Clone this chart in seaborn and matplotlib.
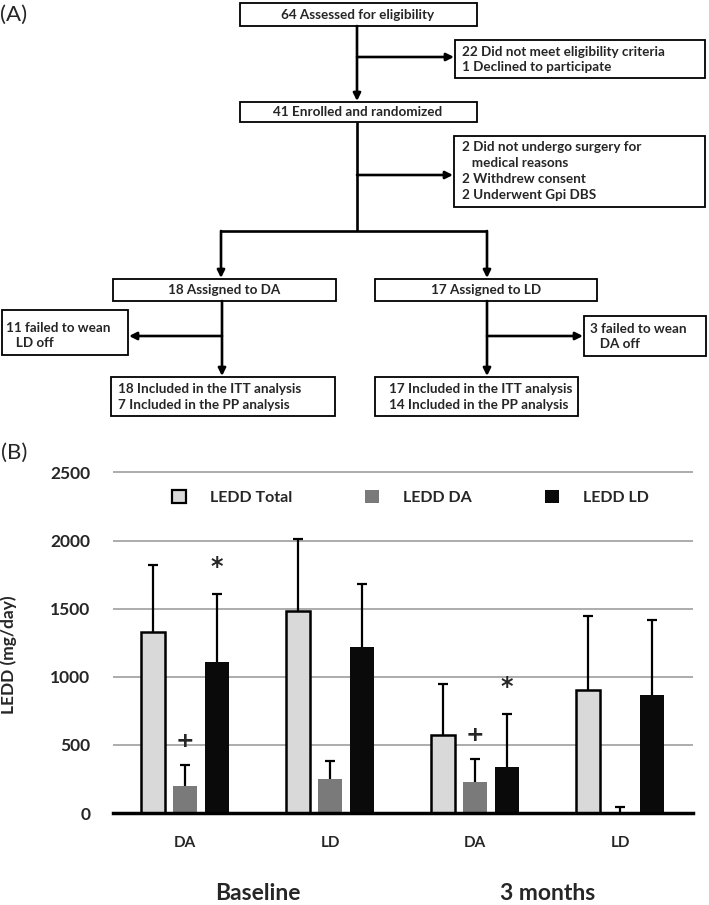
import numpy as np
import pandas as pd
import matplotlib
matplotlib.use("Agg")
import matplotlib.pyplot as plt
from matplotlib.patches import Rectangle, Patch
import seaborn as sns

# panel B data (mean and upper SD)
PERIODS = ["Baseline", "Baseline", "3 months", "3 months"]
ARMS = ["DA", "LD", "DA", "LD"]
SERIES = ["LEDD Total", "LEDD DA", "LEDD LD"]
TOTAL_MEAN = [1330, 1480, 575, 900]
TOTAL_SD = [490, 530, 370, 545]
DA_MEAN = [200, 250, 230, 0]
DA_SD = [150, 135, 165, 45]
LD_MEAN = [1110, 1220, 340, 870]
LD_SD = [495, 460, 385, 545]
# significance symbols over each bar
TOTAL_MARKS = ["", "", "", ""]
DA_MARKS = ["+", "", "+", ""]
LD_MARKS = ["*", "", "*", ""]
COLORS = ["#d9d9d9", "#7a7a7a", "#0a0a0a"]

# panel A flowchart text
SCREENED = "64 Assessed for eligibility"
EXCLUDED = ["22 Did not meet eligibility criteria", "1 Declined to participate"]
ENROLLED = "41 Enrolled and randomized"
DROPPED = ["2 Did not undergo surgery for", "   medical reasons", "2 Withdrew consent", "2 Underwent Gpi DBS"]
ASSIGNED = ["18 Assigned to DA", "17 Assigned to LD"]
FAILED = [["11 failed to wean", "   LD off"], ["3 failed to wean", "   DA off"]]
ANALYSED = [["18 Included in the ITT analysis", "7 Included in the PP analysis"],
            ["17 Included in the ITT analysis", "14 Included in the PP analysis"]]

sns.set_style("white")
plt.rcParams["font.family"] = ["Lato", "DejaVu Sans"]

fig = plt.figure(figsize=(7.09, 9.05), dpi=100)

# ---- panel A: flowchart drawn in pixel coordinates ----
fa = fig.add_axes([0, 0, 1, 1])
fa.set_xlim(0, 709)
fa.set_ylim(905, 0)
fa.axis("off")

LW = 1.9
FS = 9.7


def box(x0, y0, x1, y1):
    fa.add_patch(Rectangle((x0, y0), x1 - x0, y1 - y0, fill=False, lw=1.3, ec="black"))


def line(xs, ys):
    fa.plot(xs, ys, color="black", lw=LW, solid_capstyle="butt")


def arrow(x0, y0, x1, y1):
    fa.annotate("", xy=(x1, y1), xytext=(x0, y0),
                arrowprops=dict(arrowstyle="-|>", lw=LW, color="black",
                                mutation_scale=11, shrinkA=0, shrinkB=0))


def lines_text(x, y, rows, step=16):
    for i, r in enumerate(rows):
        fa.text(x, y + i * step, r, fontsize=FS, fontweight="bold", va="center", ha="left")


fa.text(0, 15, "(A)", fontsize=16, va="center", ha="left")
fa.text(1, 453, "(B)", fontsize=16, va="center", ha="left")

box(240, 3, 477, 26)
fa.text(358, 15, SCREENED, fontsize=FS, fontweight="bold", ha="center", va="center")
arrow(357, 26, 357, 101)
arrow(357, 57, 454, 57)
box(455, 40, 705, 78)
lines_text(462, 52, EXCLUDED, step=15)

box(240, 102, 477, 122)
fa.text(358, 112, ENROLLED, fontsize=FS, fontweight="bold", ha="center", va="center")
line([357, 357], [122, 231])
arrow(357, 175, 453, 175)
box(454, 136, 705, 207)
lines_text(462, 147, DROPPED)

line([220, 487], [231, 231])
arrow(221, 231, 221, 278)
arrow(487, 231, 487, 278)

for (x0, x1), label in zip([(113, 336), (375, 597)], ASSIGNED):
    box(x0, 279, x1, 301)
    fa.text((x0 + x1) / 2, 290, label, fontsize=FS, fontweight="bold", ha="center", va="center")

arrow(222, 301, 222, 376)
arrow(222, 336, 129, 336)
box(2, 310, 128, 355)
lines_text(6, 328, FAILED[0], step=15)

arrow(487, 301, 487, 376)
arrow(487, 336, 583, 336)
box(584, 316, 706, 356)
lines_text(590, 329, FAILED[1], step=15)

box(111, 377, 335, 416)
lines_text(118, 389, ANALYSED[0])
box(375, 377, 578, 416)
lines_text(389, 389, ANALYSED[1])

# ---- panel B: bar chart ----
keys = [p + " " + a for p, a in zip(PERIODS, ARMS)]
means = [TOTAL_MEAN, DA_MEAN, LD_MEAN]
sds = [TOTAL_SD, DA_SD, LD_SD]
marks = [TOTAL_MARKS, DA_MARKS, LD_MARKS]

rows = []
for s, m in zip(SERIES, means):
    for k, v in zip(keys, m):
        rows.append({"cat": k, "series": s, "value": v})
df = pd.DataFrame(rows)

ymax = 2510
ax = fig.add_axes([112.5 / 709, 92 / 905, 580 / 709, ymax * 0.1362 / 905])
ax.patch.set_alpha(0)

sns.barplot(data=df, x="cat", y="value", hue="series", order=keys, hue_order=SERIES,
            palette=COLORS, saturation=1, width=0.66, gap=0.25, errorbar=None,
            legend=False, ax=ax)

for i, (cont, sd, mk) in enumerate(zip(ax.containers, sds, marks)):
    xs, tops = [], []
    for bar in cont:
        xs.append(bar.get_x() + bar.get_width() / 2)
        tops.append(bar.get_height())
        if i == 0:
            bar.set_edgecolor("black")
            bar.set_linewidth(1.8)
        else:
            bar.set_linewidth(0)
    eb = ax.errorbar(xs, tops, yerr=[np.zeros(len(sd)), sd], fmt="none", ecolor="black",
                     elinewidth=1.6, capsize=3.5, capthick=1.6, zorder=1)
    # only the upper cap is drawn in the original
    eb.lines[1][0].remove()
    for x, t, e, s in zip(xs, tops, sd, mk):
        if s == "+":
            ax.text(x, t + e + 180, s, ha="center", va="center", fontsize=16,
                    fontweight="bold", family="DejaVu Sans")
        elif s == "*":
            ax.text(x, t + e + 200, s, ha="center", va="center", fontsize=17,
                    fontweight="bold", family="DejaVu Sans")

ax.set_ylim(0, ymax)
ax.set_xlim(-0.5, 3.5)
ax.set_yticks(range(0, 2501, 500))
ax.yaxis.grid(True, color="#a6a6a6", lw=1.3)
ax.set_axisbelow(True)
ax.tick_params(axis="y", length=0, pad=16, labelsize=12.5)
for lab in ax.get_yticklabels():
    lab.set_fontweight("bold")

for sp in ["top", "right", "left"]:
    ax.spines[sp].set_visible(False)
ax.spines["bottom"].set_color("black")
ax.spines["bottom"].set_linewidth(2.5)

# long separators between arms, short ticks at the ends
ax.set_xticks([0.5, 2.5])
ax.set_xticklabels(["", ""])
ax.tick_params(axis="x", which="major", length=35, width=2.4, color="black", direction="out")
ax.set_xticks([-0.5, 1.5, 3.5], minor=True)
ax.tick_params(axis="x", which="minor", length=3, width=2.4, color="black", direction="out")
ax.set_xlabel("")

tr = ax.get_xaxis_transform()
for i, a in enumerate(ARMS):
    ax.text(i, -0.088, a, transform=tr, ha="center", va="center", fontsize=11, fontweight="bold")
for p in dict.fromkeys(PERIODS):
    centre = np.mean([i for i, q in enumerate(PERIODS) if q == p])
    ax.text(centre, -0.235, p, transform=tr, ha="center", va="center", fontsize=16.5, fontweight="bold")

ax.set_ylabel("LEDD (mg/day)", fontsize=12.5, fontweight="bold")
ax.yaxis.set_label_coords(-0.165, 0.464)

handles = [Patch(facecolor=c, edgecolor="black" if i == 0 else c, lw=1.6 if i == 0 else 0)
           for i, c in enumerate(COLORS)]
ax.legend(handles, SERIES, ncol=3, loc="center left", bbox_to_anchor=(0.103, 0.922),
          frameon=False, prop=dict(size=11.5, weight="bold"), handlelength=0.85,
          handleheight=0.85, handletextpad=1.5, columnspacing=4.6, borderpad=0,
          borderaxespad=0)

fig.savefig("out.png", dpi=100)
